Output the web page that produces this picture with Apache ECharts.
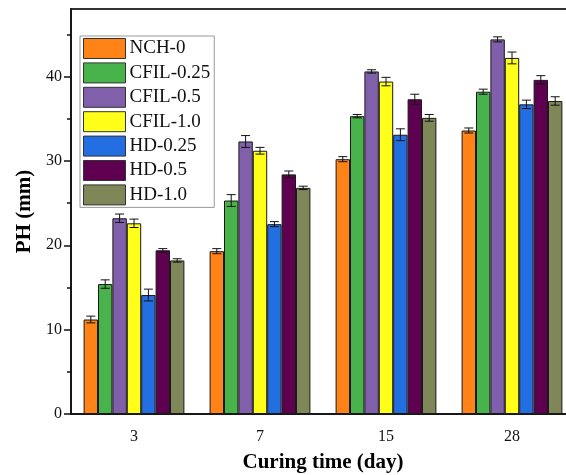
<!DOCTYPE html>
<html>
<head>
<meta charset="utf-8">
<script src="https://cdn.jsdelivr.net/npm/echarts@6/dist/echarts.min.js"></script>
<style>
  html, body { margin: 0; padding: 0; background: #fff; }
  #chart { width: 566px; height: 475px; }
</style>
</head>
<body>
<div id="chart"></div>
<script>
var categories = ["3", "7", "15", "28"];
var seriesNames = ["NCH-0", "CFIL-0.25", "CFIL-0.5", "CFIL-1.0", "HD-0.25", "HD-0.5", "HD-1.0"];
var colors = ["#FF8317", "#47B34A", "#8060AA", "#FFFF1A", "#236FE2", "#5E004F", "#7F8658"];

var nch0 = [11.2, 19.3, 30.2, 33.6];
var cfil025 = [15.4, 25.3, 35.3, 38.2];
var cfil05 = [23.2, 32.3, 40.6, 44.4];
var cfil10 = [22.6, 31.2, 39.4, 42.2];
var hd025 = [14.1, 22.5, 33.1, 36.7];
var hd05 = [19.4, 28.4, 37.3, 39.6];
var hd10 = [18.2, 26.8, 35.1, 37.1];

var nch0Err = [0.4, 0.3, 0.3, 0.3];
var cfil025Err = [0.5, 0.7, 0.2, 0.3];
var cfil05Err = [0.5, 0.7, 0.2, 0.3];
var cfil10Err = [0.5, 0.4, 0.5, 0.7];
var hd025Err = [0.7, 0.3, 0.7, 0.5];
var hd05Err = [0.2, 0.4, 0.6, 0.5];
var hd10Err = [0.2, 0.2, 0.4, 0.5];

var yTicks = [0, 10, 20, 30, 40];
var yMinorTicks = [5, 15, 25, 35, 45];

var values = [nch0, cfil025, cfil05, cfil10, hd025, hd05, hd10];
var errors = [nch0Err, cfil025Err, cfil05Err, cfil10Err, hd025Err, hd05Err, hd10Err];

var font = "Liberation Serif";
var myChart = echarts.init(document.getElementById("chart"));

var series = [];
seriesNames.forEach(function (name, i) {
  series.push({
    name: name,
    type: "bar",
    data: values[i],
    barCategoryGap: "20%",
    barGap: "0%",
    itemStyle: { color: colors[i], borderColor: "#1a1a1a", borderWidth: 1 }
  });
});

// error bars
seriesNames.forEach(function (name, i) {
  var d = values[i].map(function (v, k) { return [k, v, errors[i][k]]; });
  series.push({
    type: "custom",
    name: name + "-err",
    data: d,
    z: 10,
    silent: true,
    renderItem: function (params, api) {
      var k = api.value(0);
      var v = api.value(1);
      var e = api.value(2);
      var band = api.size([1, 0])[0];
      var bw = band * 0.8 / 7;
      var c = api.coord([k, v]);
      var x = c[0] + (i - 3) * bw;
      var yHi = api.coord([k, v + e])[1];
      var yLo = api.coord([k, v - e])[1];
      var cap = 4.5;
      var st = { stroke: "#111", lineWidth: 1 };
      return {
        type: "group",
        children: [
          { type: "line", shape: { x1: x, y1: yHi, x2: x, y2: yLo }, style: st },
          { type: "line", shape: { x1: x - cap, y1: yHi, x2: x + cap, y2: yHi }, style: st },
          { type: "line", shape: { x1: x - cap, y1: yLo, x2: x + cap, y2: yLo }, style: st }
        ]
      };
    }
  });
});

var option = {
  animation: false,
  textStyle: { fontFamily: font },
  grid: {
    left: 71, top: 9, right: -9, bottom: 61,
    outerBoundsMode: "none",
    containLabel: false,
    show: true, borderColor: "#333", borderWidth: 2, backgroundColor: "transparent"
  },
  legend: {
    data: seriesNames,
    orient: "vertical",
    left: 80, top: 36,
    itemWidth: 42, itemHeight: 20,
    itemGap: 3.4,
    padding: [2, 4, 2, 3],
    borderColor: "#999", borderWidth: 1,
    icon: "rect",
    itemStyle: { borderColor: "#333", borderWidth: 1 },
    textStyle: { fontFamily: font, fontSize: 19, color: "#111", padding: [0, 0, 0, -1] }
  },
  xAxis: {
    type: "category",
    data: categories,
    name: "Curing time (day)",
    nameLocation: "middle",
    nameGap: 38,
    nameTextStyle: { fontFamily: font, fontSize: 21, fontWeight: "bold", color: "#000" },
    axisLine: { lineStyle: { color: "#111", width: 1.5 } },
    axisTick: { alignWithLabel: true, length: 7, inside: false, lineStyle: { color: "#111", width: 1.5 } },
    axisLabel: { fontFamily: font, fontSize: 16, color: "#111", margin: 15 },
    splitLine: { show: false }
  },
  yAxis: [{
    type: "value",
    min: 0, max: 48,
    name: "PH (mm)",
    nameLocation: "middle",
    nameGap: 35,
    nameTextStyle: { fontFamily: font, fontSize: 21, fontWeight: "bold", color: "#000" },
    axisLine: { show: true, lineStyle: { color: "#111", width: 1.5 } },
    axisTick: { show: true, length: 7, customValues: yTicks, lineStyle: { color: "#111", width: 1.5 } },
    axisLabel: { fontFamily: font, fontSize: 16, color: "#111", margin: 9, customValues: yTicks },
    splitLine: { show: false }
  }, {
    type: "value",
    min: 0, max: 48,
    position: "left",
    axisLine: { show: false },
    axisTick: { show: true, length: 4, customValues: yMinorTicks, lineStyle: { color: "#111", width: 1.5 } },
    axisLabel: { show: false },
    splitLine: { show: false }
  }],
  series: series
};

myChart.setOption(option);
</script>
</body>
</html>
